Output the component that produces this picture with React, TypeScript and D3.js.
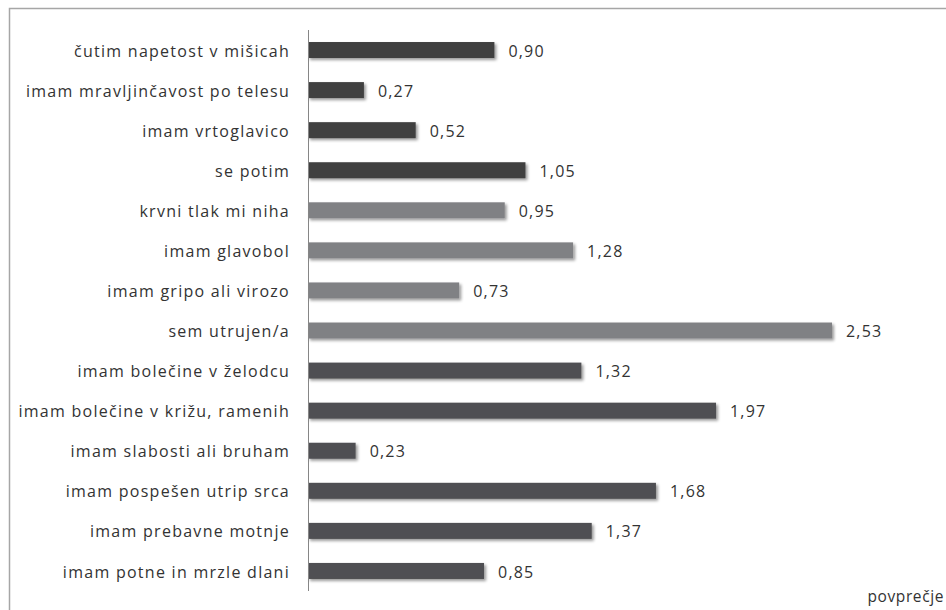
import React, { useRef, useEffect } from "react";
import * as d3 from "d3";

const categories = [
  "čutim napetost v mišicah",
  "imam mravljinčavost po telesu",
  "imam vrtoglavico",
  "se potim",
  "krvni tlak mi niha",
  "imam glavobol",
  "imam gripo ali virozo",
  "sem utrujen/a",
  "imam bolečine v želodcu",
  "imam bolečine v križu, ramenih",
  "imam slabosti ali bruham",
  "imam pospešen utrip srca",
  "imam prebavne motnje",
  "imam potne in mrzle dlani",
];
const values = [0.9, 0.27, 0.52, 1.05, 0.95, 1.28, 0.73, 2.53, 1.32, 1.97, 0.23, 1.68, 1.37, 0.85];
const groups = ["a", "a", "a", "a", "b", "b", "b", "b", "c", "c", "c", "c", "c", "c"];
const axisTitle = "povprečje";

const W = 946;
const H = 610;

export default function App() {
  const ref = useRef<SVGSVGElement>(null);
  useEffect(() => {
    const svg = d3.select(ref.current);
    svg.selectAll("*").remove();
    const font = "'Open Sans', sans-serif";
    const axisX = 308;
    const x = d3.scaleLinear().domain([0, 2.53]).range([axisX, 832]);
    const y = d3.scaleBand<string>().domain(categories).range([30, 591]).paddingInner(0.6).paddingOuter(0.3);
    const color = d3.scaleOrdinal<string, string>().domain(["a", "b", "c"]).range(["#404040", "#808184", "#505052"]);

    const defs = svg.append("defs");
    const f = defs.append("filter").attr("id", "sh").attr("x", "-5%").attr("y", "-50%").attr("width", "115%").attr("height", "250%");
    f.append("feGaussianBlur").attr("in", "SourceAlpha").attr("stdDeviation", 1.6).attr("result", "b");
    f.append("feOffset").attr("in", "b").attr("dx", 1.5).attr("dy", 2.2).attr("result", "o");
    f.append("feComponentTransfer").attr("in", "o").attr("result", "o2").append("feFuncA").attr("type", "linear").attr("slope", 0.4);
    const m = f.append("feMerge");
    m.append("feMergeNode").attr("in", "o2");
    m.append("feMergeNode").attr("in", "SourceGraphic");

    // border
    svg.append("rect").attr("x", 9.5).attr("y", 8.5).attr("width", 960).attr("height", 640)
      .attr("fill", "none").attr("stroke", "#a6a6a6").attr("stroke-width", 1.5);

    svg.append("g").selectAll("rect").data(values).join("rect")
      .attr("x", axisX)
      .attr("y", (d, i) => y(categories[i])!)
      .attr("width", (d) => x(d) - axisX)
      .attr("height", y.bandwidth())
      .attr("fill", (d, i) => color(groups[i]))
      .attr("filter", "url(#sh)");

    // axis line
    svg.append("line").attr("x1", axisX + 0.5).attr("x2", axisX + 0.5).attr("y1", 30).attr("y2", 591)
      .attr("stroke", "#868686").attr("stroke-width", 1);

    svg.append("g").selectAll("text").data(categories).join("text")
      .attr("x", 290)
      .attr("y", (d) => y(d)! + y.bandwidth() / 2 + 1)
      .attr("dy", "0.35em")
      .attr("text-anchor", "end")
      .attr("font-family", font).attr("font-size", 16).attr("letter-spacing", 1.27).attr("fill", "#333333")
      .text((d) => d);

    svg.append("g").selectAll("text").data(values).join("text")
      .attr("x", (d) => x(d) + 14)
      .attr("y", (d, i) => y(categories[i])! + y.bandwidth() / 2 + 1)
      .attr("dy", "0.35em")
      .attr("font-family", font).attr("font-size", 16).attr("letter-spacing", 1.2).attr("fill", "#333333")
      .text((d) => d3.format(".2f")(d).replace(".", ","));

    svg.append("text").attr("x", 944).attr("y", 602).attr("text-anchor", "end")
      .attr("font-family", font).attr("font-size", 15.5).attr("letter-spacing", 0.6).attr("fill", "#333333").text(axisTitle);
  }, []);
  return <svg ref={ref} width={W} height={H} style={{ position: "absolute", left: 0, top: 0, background: "#fff" }} />;
}
